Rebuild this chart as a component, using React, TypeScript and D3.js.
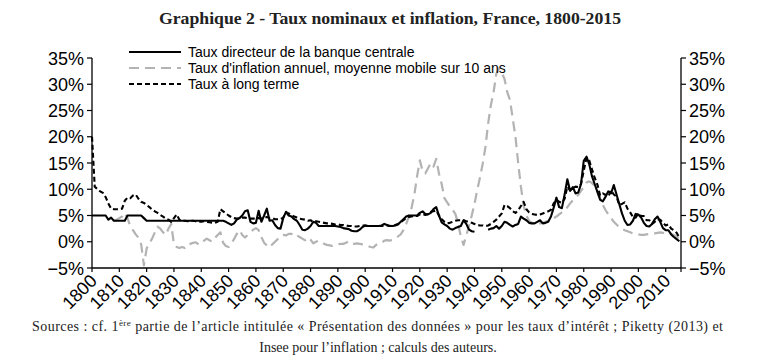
import React from "react";
import * as d3 from "d3";

const START_YEAR = 1800;
const END_YEAR = 2015;

const TITLE = "Graphique 2 - Taux nominaux et inflation, France, 1800-2015";
const LEGEND_LABELS = [
  "Taux directeur de la banque centrale",
  "Taux d'inflation annuel, moyenne mobile sur 10 ans",
  "Taux à long terme",
];
const Y_TICKS = [-5, 0, 5, 10, 15, 20, 25, 30, 35];
const X_TICKS = [1800, 1810, 1820, 1830, 1840, 1850, 1860, 1870, 1880, 1890, 1900, 1910, 1920, 1930, 1940, 1950, 1960, 1970, 1980, 1990, 2000, 2010];

// Taux directeur de la banque centrale (1800-2015)
const centralRate: (number | null)[] = [
  5.0, 5.0, 5.0, 5.0, 5.0, 5.0, 4.2, 4.6, 4.0, 4.0,
  4.0, 4.0, 4.0, 5.0, 5.0, 5.0, 5.0, 5.0, 5.0, 4.5,
  4.0, 4.0, 4.0, 4.0, 4.0, 4.0, 4.0, 4.0, 4.0, 4.0,
  4.0, 4.0, 4.0, 4.0, 4.0, 4.0, 4.0, 4.0, 4.0, 4.0,
  4.0, 4.0, 4.0, 4.0, 4.0, 4.0, 4.0, 4.0, 4.0, 3.8,
  3.5, 3.2, 3.5, 4.2, 4.5, 5.0, 5.8, 6.0, 3.8, 3.5,
  3.6, 5.9, 3.8, 5.0, 6.3, 4.0, 4.1, 3.2, 2.6, 2.5,
  4.5, 5.7, 5.0, 4.8, 4.3, 4.0, 3.2, 2.3, 2.2, 2.5,
  3.0, 3.8, 3.6, 3.0, 3.0, 3.0, 3.0, 3.0, 3.0, 3.0,
  2.9, 2.8, 2.6, 2.5, 2.4, 2.1, 2.0, 2.0, 2.3, 2.8,
  3.1, 3.0, 3.0, 3.0, 3.0, 3.0, 3.1, 3.4, 3.2, 3.0,
  3.0, 3.1, 3.3, 3.8, 4.3, 4.8, 5.0, 5.0, 5.0, 5.0,
  5.5, 5.8, 5.3, 5.2, 5.5, 6.2, 6.6, 5.0, 3.7, 3.3,
  3.0, 2.5, 2.3, 2.6, 2.8, 3.0, 4.1, 3.4, 2.3, 2.0,
  1.9, null, null, null, null, 2.3, 2.5, 2.6, 3.0, 2.5,
  3.0, 3.8, 3.6, 3.2, 2.9, 3.2, 3.4, 4.8, 4.4, 4.1,
  3.6, 3.5, 3.5, 3.8, 4.1, 3.5, 3.6, 3.8, 4.8, 6.5,
  8.4, 6.6, 6.4, 9.0, 11.9, 9.7, 10.4, 9.2, 9.4, 11.0,
  15.4, 16.2, 14.8, 12.5, 11.0, 9.5, 8.0, 7.7, 8.6, 9.6,
  9.2, 10.8, 9.0, 7.2, 5.4, 4.0, 3.2, 3.3, 4.0, 5.3,
  5.2, 4.6, 3.6, 3.0, 2.9, 3.4, 4.3, 4.8, 3.8, 2.6,
  2.2, 2.2, 1.4, 0.9, 0.5, 0.1,
];

// Taux d'inflation annuel, moyenne mobile sur 10 ans (1800-2015)
const inflation: (number | null)[] = [
  null, null, null, null, null, null, null, null, 4.0, 4.2,
  4.5, 4.8, 5.5, 4.5, 3.0, 2.2, 1.4, 0.8, -0.5, -4.5,
  -1.3, -0.3, 0.6, 1.8, 2.9, 2.5, 1.8, 1.3, 2.5, 3.4,
  -0.5, -1.0, -1.2, -1.0, -1.2, -0.6, -0.4, -0.2, -0.1, -0.5,
  -0.4, 0.2, 0.6, 0.3, 0.0, 0.7, 1.3, 1.8, -0.2, -0.8,
  -1.0, -0.3, 0.5, 1.5, 2.2, 1.3, 0.8, 1.3, 1.8, 2.3,
  2.6, 2.2, 0.9, -0.2, -0.7, -1.1, -0.5, 0.0, 0.5, 1.0,
  1.3, 1.2, 1.5, 1.5, 1.0, 1.2, 0.9, 0.6, 0.3, 0.8,
  0.4, -0.3, 0.0, 0.2, -0.1, -0.4, -0.6, -0.7, -0.8, -0.6,
  -0.5, -0.4, -0.4, -0.2, 0.1, -0.3, -0.4, -0.3, -0.4, -0.5,
  -0.6, -0.8, -1.0, -1.1, -0.6, -0.3, -0.2, 0.2, 0.3, 0.2,
  0.4, 0.7, 1.0, 1.4, 2.2, 3.4, 4.8, 6.5, 9.0, 12.5,
  15.5, 13.5, 13.0, 14.0, 15.0, 14.3, 15.8, 13.0, 11.0, 8.3,
  7.5, 6.7, 6.1, 5.3, 3.5, 1.0, -0.6, 1.2, 3.0, 5.0,
  7.2, 9.8, 12.2, 14.8, 18.0, 22.5, 26.0, 28.5, 32.0, 33.0,
  32.2, 31.0, 28.5, 27.0, 23.5, 20.0, 15.0, 10.5, 6.8, 5.0,
  4.0, 3.6, 3.4, 3.4, 3.5, 3.6, 3.8, 4.0, 4.2, 4.5,
  4.8, 5.2, 5.6, 5.9, 6.6, 7.3, 7.9, 8.4, 8.9, 9.7,
  10.4, 11.3, 11.5, 11.2, 10.6, 9.5, 8.2, 7.0, 6.0, 5.2,
  4.5, 3.8, 3.3, 2.8, 2.5, 2.2, 2.0, 1.8, 1.6, 1.5,
  1.4, 1.3, 1.3, 1.4, 1.5, 1.6, 1.6, 1.7, 1.8, 1.7,
  1.6, 1.6, 1.5, 1.3, 1.0, 0.6,
];

// Taux à long terme (1800-2015)
const longRate: (number | null)[] = [
  20.0, 10.5, 10.0, 9.6, 9.3, 8.5, 7.3, 6.3, 6.2, 6.2,
  6.2, 6.3, 7.8, 8.4, 8.3, 8.8, 9.0, 8.2, 7.6, 7.4,
  7.0, 6.6, 6.1, 5.8, 5.5, 5.1, 4.8, 4.4, 4.2, 3.8,
  4.5, 5.2, 4.2, 4.0, 4.0, 3.9, 4.0, 4.0, 3.9, 3.8,
  3.8, 3.9, 3.8, 3.7, 3.6, 3.6, 3.8, 6.2, 5.8, 5.4,
  5.0, 4.7, 4.5, 4.4, 4.5, 4.6, 4.6, 4.5, 4.4, 4.4,
  4.5, 4.5, 4.4, 4.6, 4.7, 4.5, 4.5, 4.3, 4.3, 4.3,
  4.6, 5.6, 5.4, 5.1, 4.8, 4.6, 4.4, 4.3, 4.2, 4.0,
  4.1, 3.8, 3.9, 3.8, 3.7, 3.6, 3.5, 3.5, 3.4, 3.3,
  3.3, 3.2, 3.2, 3.1, 3.0, 3.0, 2.9, 2.9, 3.0, 3.1,
  3.1, 3.0, 3.0, 3.0, 3.0, 3.0, 3.0, 3.1, 3.1, 3.0,
  3.1, 3.2, 3.4, 3.7, 4.1, 4.5, 4.7, 4.8, 4.9, 4.9,
  5.2, 5.3, 5.1, 5.3, 5.7, 5.8, 6.0, 5.0, 4.3, 3.8,
  3.5, 3.6, 3.8, 4.0, 4.1, 4.1, 4.1, 3.9, 3.8, 3.6,
  3.4, 3.2, 3.1, 3.1, 3.0, 3.1, 3.4, 3.8, 4.2, 4.8,
  5.4, 7.0, 6.8, 6.4, 5.8, 5.5, 6.0, 6.8, 7.6, 6.2,
  5.6, 5.3, 5.2, 5.1, 5.2, 5.4, 5.6, 5.8, 6.1, 7.3,
  8.0, 7.6, 7.4, 8.2, 10.5, 9.8, 10.2, 10.5, 10.4, 11.0,
  13.5, 16.0, 15.5, 13.8, 12.2, 10.9, 8.8, 9.2, 8.9, 8.6,
  9.8, 9.0, 8.6, 7.0, 7.2, 7.5, 6.3, 5.6, 4.7, 4.6,
  5.4, 4.9, 4.9, 4.1, 4.1, 3.4, 3.8, 4.3, 4.2, 3.6,
  3.1, 3.3, 2.5, 2.2, 1.7, 0.8,
];

const W = 757;
const H = 361;
const PLOT = { left: 92, right: 681, top: 58, bottom: 268 };
const AXIS_FONT = "'Liberation Sans', Arial, sans-serif";
const SERIF = "'Liberation Serif', 'DejaVu Serif', serif";

export default function App() {
  const x = d3.scaleLinear().domain([START_YEAR, END_YEAR + 0.6]).range([PLOT.left, PLOT.right]);
  const y = d3.scaleLinear().domain([-5, 35]).range([PLOT.bottom, PLOT.top]);

  const toPts = (arr: (number | null)[]) => arr.map((v, i) => ({ year: START_YEAR + i, v }));
  const line = d3
    .line<{ year: number; v: number | null }>()
    .defined((d) => d.v !== null)
    .x((d) => x(d.year))
    .y((d) => y(d.v as number));

  const series = [
    { key: "infl", data: inflation, stroke: "#b3b3b3", dash: "10,6", width: 2.2 },
    { key: "cb", data: centralRate, stroke: "#000", dash: undefined, width: 2.1 },
    { key: "lt", data: longRate, stroke: "#000", dash: "5,3", width: 2.1 },
  ];

  const legend = [
    { label: LEGEND_LABELS[0], stroke: "#000", dash: undefined as string | undefined, y: 52 },
    { label: LEGEND_LABELS[1], stroke: "#b3b3b3", dash: "10,6", y: 68 },
    { label: LEGEND_LABELS[2], stroke: "#000", dash: "5,3", y: 84 },
  ];

  return (
    <svg
      width={W}
      height={H}
      style={{ position: "absolute", left: 0, top: 0, background: "#fff" }}
    >
      <rect x={0} y={0} width={W} height={H} fill="#fff" />
      <text
        x={390}
        y={24}
        textAnchor="middle"
        fontFamily={SERIF}
        fontWeight="bold"
        fontSize={17}
        fill="#222"
        textLength={462}
        lengthAdjust="spacingAndGlyphs"
      >
        {TITLE}
      </text>

      {/* axes */}
      <line x1={PLOT.left} x2={PLOT.left} y1={PLOT.top} y2={PLOT.bottom} stroke="#000" strokeWidth={1.3} />
      <line x1={PLOT.right} x2={PLOT.right} y1={PLOT.top} y2={PLOT.bottom} stroke="#000" strokeWidth={1.3} />
      <line x1={PLOT.left} x2={PLOT.right} y1={PLOT.bottom} y2={PLOT.bottom} stroke="#000" strokeWidth={1.3} />

      {Y_TICKS.map((t) => (
        <g key={"yt" + t}>
          <line x1={PLOT.left - 5} x2={PLOT.left} y1={y(t)} y2={y(t)} stroke="#000" strokeWidth={1.2} />
          <line x1={PLOT.right} x2={PLOT.right + 5} y1={y(t)} y2={y(t)} stroke="#000" strokeWidth={1.2} />
          <text x={PLOT.left - 8} y={y(t) + 6.5} textAnchor="end" fontFamily={AXIS_FONT} fontSize={18} fill="#000">
            {(t < 0 ? "\u2212" + Math.abs(t) : t) + "%"}
          </text>
          <text x={PLOT.right + 8} y={y(t) + 6.5} textAnchor="start" fontFamily={AXIS_FONT} fontSize={18} fill="#000">
            {(t < 0 ? "\u2212" + Math.abs(t) : t) + "%"}
          </text>
        </g>
      ))}

      {[...X_TICKS, END_YEAR + 0.6].map((t) => (
        <line key={"xt" + t} x1={x(t)} x2={x(t)} y1={PLOT.bottom} y2={PLOT.bottom + 4} stroke="#000" strokeWidth={1.2} />
      ))}
      {X_TICKS.map((t) => (
        <text
          key={"xl" + t}
          transform={`translate(${x(t) + 6},${PLOT.bottom + 14}) rotate(-45)`}
          textAnchor="end"
          fontFamily={AXIS_FONT}
          fontSize={18}
          fill="#000"
        >
          {t}
        </text>
      ))}

      {/* series */}
      {series.map((s) => (
        <path
          key={s.key}
          d={line(toPts(s.data)) || ""}
          fill="none"
          stroke={s.stroke}
          strokeWidth={s.width}
          strokeDasharray={s.dash}
          strokeLinejoin="round"
        />
      ))}

      {/* legend */}
      {legend.map((l) => (
        <g key={l.label}>
          <line x1={129} x2={181} y1={l.y} y2={l.y} stroke={l.stroke} strokeWidth={2} strokeDasharray={l.dash} />
          <text x={188} y={l.y + 5} fontFamily={AXIS_FONT} fontSize={14} fill="#000">
            {l.label}
          </text>
        </g>
      ))}

      {/* source */}
      <text
        x={32}
        y={331}
        textAnchor="start"
        fontFamily={SERIF}
        fontSize={14}
        fill="#222"
        textLength={691}
        lengthAdjust="spacing"
      >
        <tspan>Sources : cf. 1</tspan>
        <tspan dy={-5} fontSize={9}>ère</tspan>
        <tspan dy={5}> partie de l’article intitulée « Présentation des données » pour les taux d’intérêt ; Piketty (2013) et</tspan>
      </text>
      <text x={378} y={352} textAnchor="middle" fontFamily={SERIF} fontSize={14} fill="#222">
        Insee pour l’inflation ; calculs des auteurs.
      </text>
    </svg>
  );
}
